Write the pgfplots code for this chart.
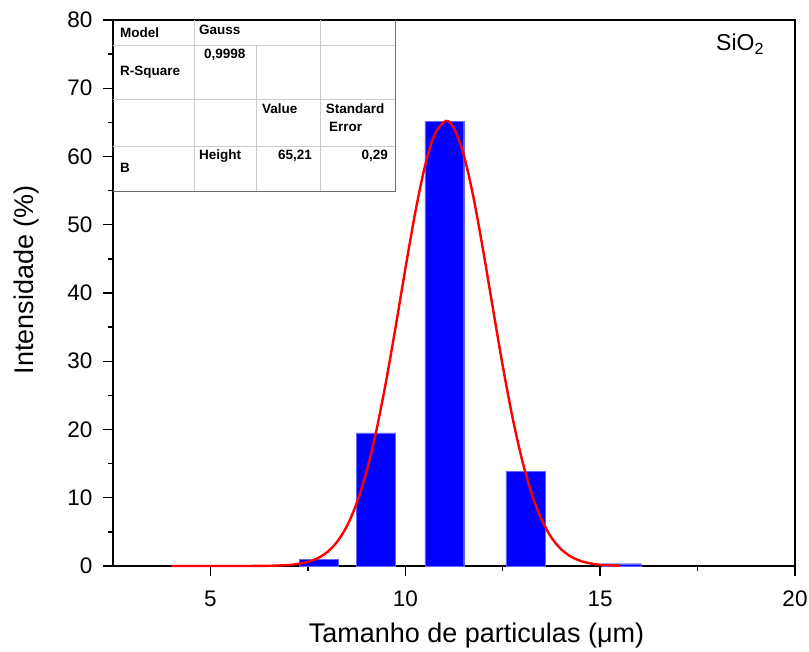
\documentclass[border=0pt]{standalone}
\usepackage{fontspec}
\setmainfont{Liberation Sans}
\usepackage{pgfplots}
\pgfplotsset{compat=1.18}

\definecolor{barblue}{RGB}{0,0,255}
\definecolor{fitred}{RGB}{255,0,0}
\definecolor{cellgrey}{RGB}{205,205,205}
\definecolor{edgegrey}{RGB}{110,110,110}

\begin{document}
\begin{tikzpicture}
% page = 809 x 652, axis box from px (113,566) to (795,20)
\path[use as bounding box] (-113pt,-86pt) rectangle (696pt,566pt);
\begin{axis}[
    scale only axis,
    width=682pt, height=546pt,
    xmin=2.5, xmax=20,
    ymin=0, ymax=80,
    xtick={5,10,15,20},
    ytick={0,10,...,80},
    minor x tick num=1,
    minor y tick num=1,
    xtick pos=bottom, ytick pos=left,
    tick align=outside,
    major tick length=10pt,
    minor tick length=5pt,
    axis line style={line width=1.6pt},
    every tick/.style={black, line width=1.4pt},
    tick label style={font=\fontsize{22.5}{24}\selectfont},
    xticklabel style={yshift=-11pt},
    yticklabel style={xshift=-7pt},
    /pgf/number format/assume math mode=true,
    xlabel={Tamanho de particulas (μm)},
    ylabel={Intensidade (\%)},
    label style={font=\fontsize{27}{30}\selectfont},
    xlabel style={at={(axis description cs:0.533,-0.141)}, anchor=base},
    ylabel style={at={(axis description cs:-0.1173,0.524)}, anchor=base},
    clip=false,
]
\addplot[ybar, bar width=1, bar shift=0pt, fill=barblue, draw=barblue!60, line width=0.4pt]
    coordinates {
    (7.78, 1.0)
    (9.25, 19.5)
    (11.0, 65.2)
    (13.08, 13.9)
    (15.55, 0.33)
};
\addplot[smooth, color=fitred, line width=2.4pt, mark=none] coordinates {
    (4.0, 0.0) (5.0, 0.0) (6.0, 0.005) (6.5, 0.03) (7.0, 0.14)
    (7.25, 0.30) (7.5, 0.60) (7.75, 1.13) (8.0, 2.05) (8.25, 3.53)
    (8.5, 5.82) (8.75, 9.15) (9.0, 13.72) (9.25, 19.64) (9.5, 26.83)
    (9.75, 34.96) (10.0, 43.49) (10.25, 51.62) (10.5, 58.47) (10.75, 63.19)
    (11.04, 65.21) (11.25, 64.14) (11.5, 60.24) (11.75, 54.0) (12.0, 46.17)
    (12.25, 37.69) (12.5, 29.35) (12.75, 21.81) (13.0, 15.47) (13.25, 10.47)
    (13.5, 6.76) (13.75, 4.17) (14.0, 2.45) (14.25, 1.37) (14.5, 0.74)
    (14.75, 0.38) (15.0, 0.18) (15.5, 0.04)
};
\end{axis}

% results table in the upper left corner
\begin{scope}[x=1pt, y=1pt]
\draw[cellgrey, line width=0.8pt] (0,521) -- (282,521);
\draw[cellgrey, line width=0.8pt] (0,467) -- (282,467);
\draw[cellgrey, line width=0.8pt] (0,420) -- (282,420);
\draw[cellgrey, line width=0.8pt] (81.3,546) -- (81.3,374.3);
\draw[cellgrey, line width=0.8pt] (143.7,521) -- (143.7,374.3);
\draw[cellgrey, line width=0.8pt] (207,546) -- (207,374.3);
\draw[edgegrey, line width=1pt] (0,374.3) -- (282,374.3) -- (282,546);
\begin{scope}[font=\fontsize{13.5}{15}\selectfont\bfseries, inner sep=0pt]
\node[anchor=west] at (7,533) {Model};
\node[anchor=west] at (86,536) {Gauss};
\node[anchor=west] at (7,494) {R-Square};
\node[anchor=west] at (91,511) {0,9998};
\node[anchor=west] at (149,457) {Value};
\node[anchor=west] at (212.7,457) {Standard};
\node[anchor=west] at (216,439.3) {Error};
\node[anchor=west] at (86,410.3) {Height};
\node[anchor=east] at (199,410.3) {65,21};
\node[anchor=east] at (275,410.3) {0,29};
\node[anchor=west] at (7,398.3) {B};
\end{scope}
\node[anchor=west, inner sep=0pt, font=\fontsize{23}{25}\selectfont] at (603,522) {SiO\textsubscript{2}};
\end{scope}
\end{tikzpicture}
\end{document}
